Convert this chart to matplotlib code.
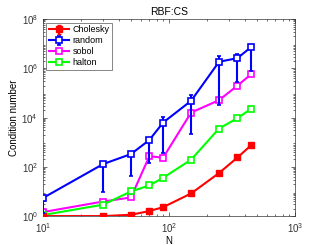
import numpy as np
import matplotlib
matplotlib.use("Agg")
import matplotlib.pyplot as plt

plt.rcParams['font.family'] = ['Liberation Sans', 'DejaVu Sans']

# sample sizes
n_vals = [10, 30, 50, 70, 90, 150, 250, 350, 450]

# condition numbers
chol = [1.0, 1.0, 1.13, 1.6, 2.3, 8.3, 56, 240, 760]
rand = [5.4, 129, 330, 1230, 6300, 4.8e4, 1.85e6, 2.6e6, 7.4e6]
rand_lo = [1.3, 9.7, 42, 150, 350, 2100, 3.4e4, 2.8e5, 8e5]
rand_hi = [5.6, 140, 380, 1400, 1.1e4, 8e4, 3.3e6, 4e6, 9.3e6]
sobol = [1.45, 3.9, 5.7, 270, 235, 1.6e4, 5.1e4, 2e5, 5.8e5]
halton = [1.1, 2.9, 10, 17.6, 36, 195, 3600, 9500, 2.3e4]
labels = ['Cholesky', 'random', 'sobol', 'halton']

fig = plt.figure(figsize=(3.27, 2.45), dpi=100)
ax = fig.add_axes([0.131, 0.118, 0.771, 0.804])

rand_err = [np.array(rand) - np.array(rand_lo), np.array(rand_hi) - np.array(rand)]

h1 = ax.errorbar(n_vals, chol, yerr=[np.zeros(9), np.zeros(9)], color='#ff0000', lw=1.5,
                 marker='s', ms=4, mfc='#ff0000', mec='#ff0000', capsize=1.5,
                 elinewidth=1.5, zorder=3)
h2 = ax.errorbar(n_vals, rand, yerr=rand_err, color='#0000ff', lw=1.5,
                 marker='s', ms=4.5, mfc='white', mec='#0000ff', mew=1.2,
                 capsize=1.5, elinewidth=1.5, zorder=4)
h3, = ax.plot(n_vals, sobol, color='#ff00ff', lw=1.5, marker='s', ms=4.5,
              mfc='white', mew=1.2, zorder=2)
h4, = ax.plot(n_vals, halton, color='#00ff00', lw=1.5, marker='s', ms=4.5,
              mfc='white', mew=1.2, zorder=2)

ax.set_xscale('log')
ax.set_yscale('log')
ax.set_xlim(10, 1000)
ax.set_ylim(1, 1e8)
ax.set_yticks([1, 1e2, 1e4, 1e6, 1e8])
ax.set_xticks([10, 100, 1000])
ax.tick_params(which='both', direction='in', top=True, right=True,
               labelsize=7, colors='#333333', length=3, width=0.5)
ax.tick_params(which='minor', length=1.5)
for s in ax.spines.values():
    s.set_linewidth(0.5)
    s.set_color('#333333')

ax.set_title('RBF:CS', fontsize=7.5, pad=3)
ax.set_xlabel('N', fontsize=7, labelpad=1)
ax.set_ylabel('Condition number', fontsize=7, labelpad=2)

leg = ax.legend([h1, h2, h3, h4], labels, loc='upper left', fontsize=6.5,
                fancybox=False, framealpha=1, edgecolor='#555555',
                handlelength=2.2, borderpad=0.3, labelspacing=0.2,
                handletextpad=0.4, borderaxespad=0.4)
leg.get_frame().set_linewidth(0.5)

fig.savefig('out.png', dpi=100)
